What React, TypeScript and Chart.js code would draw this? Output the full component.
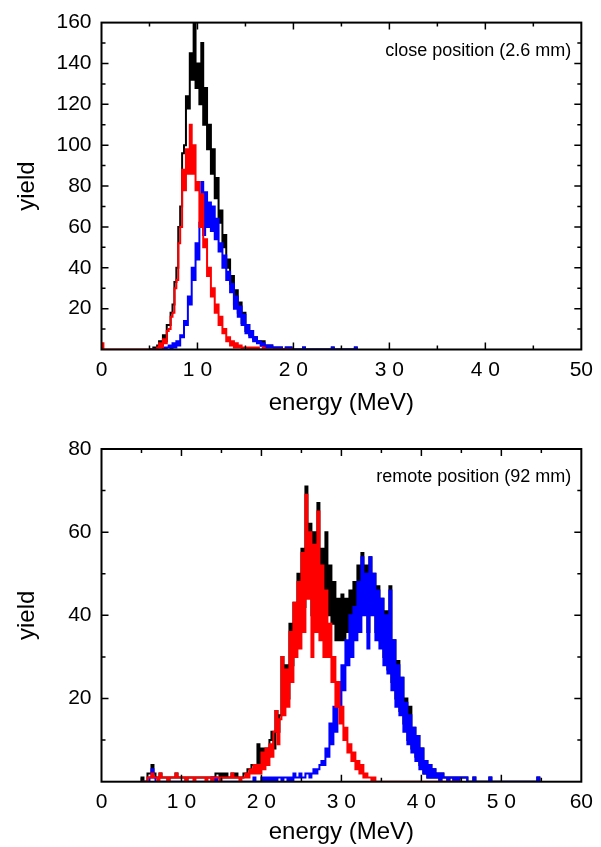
import React, { useEffect, useRef } from "react";
import { Chart, registerables } from "chart.js";

Chart.register(...registerables);

const FONT = '"Liberation Sans", Arial, Helvetica, sans-serif';

// ---------- TOP PANEL: close position (2.6 mm) ----------
const topBinStart = 5.0;
const topBinWidth = 0.2;
const topXTickLabels = ["0", "1 0", "2 0", "3 0", "4 0", "50"];
const topYTickLabels = ["", "20", "40", "60", "80", "100", "120", "140", "160"];
// yield per 0.2 MeV bin, starting at 5.0 MeV
const topRed = [
  0, 0, 0, 0, 1, 3, 1, 5, 3, 9,
  10, 16, 18, 30, 34, 52, 60, 88, 78, 98,
  86, 110, 86, 100, 78, 82, 60, 76, 50, 54,
  36, 40, 26, 30, 18, 22, 12, 16, 8, 10,
  4, 6, 2, 4, 1, 3, 1, 2, 0, 1,
  1, 0, 1, 0, 1, 0, 1, 0, 0, 1,
  0, 0, 0, 0, 0, 0, 0, 0, 0, 0, 0, 0, 0, 0, 0,
];
const topBlue = [
  0, 0, 0, 0, 0, 0, 0, 1, 0, 1,
  2, 0, 3, 1, 4, 2, 7, 6, 14, 12,
  26, 22, 40, 34, 52, 44, 62, 82, 56, 77,
  60, 72, 58, 70, 54, 64, 48, 52, 40, 46,
  34, 38, 28, 32, 20, 26, 16, 21, 12, 17,
  8, 12, 6, 9, 4, 6, 3, 4, 2, 3,
  1, 2, 1, 2, 1, 0, 1, 0, 1, 0, 0, 1, 0, 1, 0,
];
const topBlack = [
  0, 0, 1, 0, 2, 4, 2, 7, 4, 12,
  12, 18, 22, 33, 40, 60, 70, 96, 100, 124,
  118, 145, 132, 160, 128, 140, 120, 150, 110, 128,
  98, 110, 86, 98, 74, 84, 62, 68, 50, 56,
  40, 44, 32, 36, 22, 29, 18, 23, 13, 18,
  9, 12, 7, 9, 5, 6, 4, 4, 2, 4,
  1, 2, 1, 2, 1, 0, 1, 0, 1, 0, 0, 1, 0, 1, 0,
];
// isolated bins outside the main range: [energy, yield]
const topRedSparse: [number, number][] = [[0.0, 3]];
const topBlueSparse: [number, number][] = [[21.0, 1], [24.0, 1], [26.4, 1]];
const topBlackSparse: [number, number][] = [[21.0, 1], [24.0, 1], [26.4, 1]];

// ---------- BOTTOM PANEL: remote position (92 mm) ----------
const bottomBinStart = 5.0;
const bottomBinWidth = 0.25;
const bottomXTickLabels = ["0", "1 0", "2 0", "3 0", "4 0", "5 0", "60"];
const bottomYTickLabels = ["", "20", "40", "60", "80"];
// yield per 0.25 MeV bin, starting at 5.0 MeV
const bottomRed = [
  0, 0, 0, 1, 1, 2, 1, 1, 0, 2, 1, 1,
  1, 0, 1, 1, 1, 2, 1, 1, 1, 1, 0, 1,
  1, 1, 0, 1, 1, 1, 1, 1, 0, 1, 1, 0,
  1, 1, 1, 0, 1, 1, 1, 1, 1, 2, 1, 1,
  1, 0, 1, 1, 2, 1, 3, 2, 4, 2, 4, 2,
  7, 3, 8, 4, 9, 6, 12, 17, 9, 15, 30, 16,
  27, 18, 36, 24, 43, 30, 48, 32, 55, 36, 69, 44,
  60, 30, 57, 36, 65, 34, 52, 30, 46, 30, 38, 24,
  30, 18, 24, 14, 18, 10, 13, 7, 9, 5, 7, 3,
  5, 2, 4, 1, 2, 1, 1, 0, 1, 0, 0, 0,
  0, 0, 0, 0, 0, 0, 0, 0, 0, 0, 0, 0,
  0, 0, 0, 0, 0, 0, 0, 0, 0, 0, 0, 0,
  0, 0, 0, 0, 0, 0, 0, 0, 0, 0, 0, 0,
  0, 0, 0, 0,
];
const bottomBlue = [
  0, 0, 0, 0, 1, 3, 1, 0, 0, 0, 0, 0,
  0, 0, 0, 0, 0, 0, 0, 0, 0, 0, 0, 0,
  0, 0, 0, 0, 0, 0, 0, 0, 0, 0, 0, 1,
  0, 1, 0, 0, 0, 0, 0, 0, 0, 0, 0, 0,
  0, 0, 0, 0, 0, 0, 0, 0, 1, 0, 0, 0,
  1, 0, 1, 0, 1, 0, 1, 0, 1, 1, 0, 1,
  1, 0, 1, 0, 2, 1, 1, 2, 1, 1, 2, 2,
  1, 2, 3, 2, 3, 4, 5, 4, 8, 6, 14, 9,
  18, 12, 24, 18, 28, 22, 34, 28, 40, 30, 42, 34,
  48, 36, 54, 40, 50, 32, 54, 40, 50, 34, 46, 32,
  44, 28, 40, 26, 46, 22, 34, 18, 28, 16, 25, 12,
  19, 9, 16, 7, 13, 5, 11, 3, 8, 2, 5, 1,
  4, 1, 3, 1, 2, 0, 2, 1, 1, 0, 1, 1,
  0, 1, 0, 1,
];
const bottomBlack = [
  1, 0, 0, 2, 2, 4, 2, 1, 1, 2, 1, 1,
  1, 0, 1, 1, 1, 2, 1, 1, 1, 1, 0, 1,
  1, 1, 1, 1, 1, 1, 1, 1, 1, 1, 1, 1,
  1, 2, 2, 1, 2, 1, 2, 1, 1, 2, 1, 2,
  1, 1, 1, 2, 2, 3, 3, 4, 4, 3, 9, 4,
  8, 5, 8, 6, 10, 12, 8, 17, 12, 16, 30, 20,
  28, 20, 38, 28, 43, 34, 50, 36, 56, 42, 71, 48,
  62, 40, 60, 44, 67, 48, 56, 44, 60, 40, 52, 38,
  48, 34, 44, 34, 45, 34, 44, 36, 46, 36, 48, 38,
  52, 40, 55, 44, 52, 36, 54, 42, 50, 36, 47, 34,
  44, 30, 41, 27, 47, 24, 34, 20, 29, 17, 25, 14,
  20, 10, 18, 8, 13, 6, 11, 4, 8, 2, 5, 1,
  4, 1, 3, 1, 2, 0, 2, 1, 1, 0, 1, 1,
  0, 1, 0, 1,
];
const bottomRedSparse: [number, number][] = [];
const bottomBlueSparse: [number, number][] = [
  [45.0, 1], [45.25, 1], [45.5, 1], [46.5, 1], [48.5, 1], [54.5, 1],
];
const bottomBlackSparse: [number, number][] = [
  [45.0, 1], [45.25, 1], [45.5, 1], [46.5, 1], [48.5, 1], [54.5, 1],
];

const RED = "#ff0000";
const BLUE = "#0000ff";
const BLACK = "#000000";

type Pt = { x: number; y: number };

// turn binned counts into step points (empty bins count as zero)
function histPoints(
  start: number,
  width: number,
  values: number[],
  sparse: [number, number][]
): Pt[] {
  const m = new Map<number, number>();
  const k0 = Math.round(start / width);
  values.forEach((v, i) => m.set(k0 + i, v));
  sparse.forEach(([e, v]) => m.set(Math.round(e / width), v));
  const keys = [...m.keys()].sort((a, b) => a - b);
  const lo = keys[0];
  const hi = keys[keys.length - 1];
  const pts: Pt[] = [{ x: lo * width, y: 0 }];
  for (let k = lo; k <= hi; k++) pts.push({ x: k * width, y: m.get(k) ?? 0 });
  pts.push({ x: (hi + 1) * width, y: 0 });
  return pts;
}

const framePlugin = {
  id: "frame",
  afterDatasetsDraw(chart: any, _args: any, opts: any) {
    const { ctx, chartArea: a, scales } = chart;
    const xs = scales.x;
    const ys = scales.y;
    ctx.save();
    ctx.strokeStyle = "#000";
    ctx.lineWidth = 1.5;
    ctx.beginPath();
    const isMajor = (v: number, step: number) =>
      Math.abs(v / step - Math.round(v / step)) < 1e-6;
    for (let i = 1; ; i++) {
      const v = xs.min + i * opts.xMinor;
      if (v >= xs.max - 1e-9) break;
      const p = xs.getPixelForValue(v);
      const len = isMajor(v, opts.xMajor) ? 7 : 4;
      ctx.moveTo(p, a.bottom);
      ctx.lineTo(p, a.bottom - len);
      ctx.moveTo(p, a.top);
      ctx.lineTo(p, a.top + len);
    }
    for (let i = 1; ; i++) {
      const v = ys.min + i * opts.yMinor;
      if (v >= ys.max - 1e-9) break;
      const p = ys.getPixelForValue(v);
      const len = isMajor(v, opts.yMajor) ? 7 : 4;
      ctx.moveTo(a.left, p);
      ctx.lineTo(a.left + len, p);
      ctx.moveTo(a.right, p);
      ctx.lineTo(a.right - len, p);
    }
    ctx.stroke();
    ctx.lineWidth = 2;
    ctx.strokeRect(a.left, a.top, a.right - a.left, a.bottom - a.top);
    ctx.font = `18px ${FONT}`;
    ctx.fillStyle = "#000";
    ctx.textAlign = "right";
    ctx.textBaseline = "middle";
    ctx.fillText(opts.label, a.right - 10, a.top + 28);
    ctx.restore();
  },
};

type PanelProps = {
  width: number;
  height: number;
  padTop: number;
  xAxisHeight: number;
  titlePadBottom: number;
  xMax: number;
  yMax: number;
  xLabels: string[];
  yLabels: string[];
  label: string;
  red: Pt[];
  blue: Pt[];
  black: Pt[];
};

function Panel(p: PanelProps) {
  const ref = useRef<HTMLCanvasElement | null>(null);
  useEffect(() => {
    if (!ref.current) return;
    const line = (data: Pt[], color: string) => ({
      data,
      borderColor: color,
      backgroundColor: color,
      borderWidth: 2,
      pointRadius: 0,
      stepped: true,
      fill: false,
      tension: 0,
      clip: 0,
    });
    const chart = new Chart(ref.current, {
      type: "line",
      data: {
        datasets: [line(p.red, RED), line(p.blue, BLUE), line(p.black, BLACK)] as any,
      },
      plugins: [framePlugin],
      options: {
        animation: false,
        responsive: false,
        devicePixelRatio: 1,
        events: [],
        layout: { padding: { left: 0, right: 19, top: p.padTop, bottom: 0 } },
        plugins: {
          legend: { display: false },
          tooltip: { enabled: false },
          frame: { xMinor: 5, xMajor: 10, yMinor: 10, yMajor: 20, label: p.label },
        } as any,
        scales: {
          x: {
            type: "linear",
            min: 0,
            max: p.xMax,
            grid: { display: false, drawTicks: false },
            border: { display: false },
            ticks: {
              stepSize: 10,
              autoSkip: false,
              maxRotation: 0,
              padding: 8,
              color: "#000",
              font: { family: FONT, size: 21 },
              callback: (v: any) => p.xLabels[Math.round(Number(v) / 10)] ?? "",
            },
            title: {
              display: true,
              text: "energy (MeV)",
              color: "#000",
              font: { family: FONT, size: 24 },
              padding: { top: 0, bottom: p.titlePadBottom },
            },
            afterFit: (s: any) => {
              s.height = p.xAxisHeight;
            },
          },
          y: {
            type: "linear",
            min: 0,
            max: p.yMax,
            grid: { display: false, drawTicks: false },
            border: { display: false },
            ticks: {
              stepSize: 20,
              padding: 10,
              color: "#000",
              font: { family: FONT, size: 21 },
              callback: (v: any) => p.yLabels[Math.round(Number(v) / 20)] ?? "",
            },
            title: {
              display: true,
              text: "yield",
              color: "#000",
              font: { family: FONT, size: 24 },
              padding: { top: 13, bottom: 0 },
            },
            afterFit: (s: any) => {
              s.width = 101.5;
            },
          },
        },
      } as any,
    });
    return () => chart.destroy();
  }, []);
  return (
    <canvas
      ref={ref}
      width={p.width}
      height={p.height}
      style={{ display: "block", width: p.width, height: p.height }}
    />
  );
}

export default function App() {
  const topR = histPoints(topBinStart, topBinWidth, topRed, topRedSparse);
  const topB = histPoints(topBinStart, topBinWidth, topBlue, topBlueSparse);
  const topK = histPoints(topBinStart, topBinWidth, topBlack, topBlackSparse);
  const botR = histPoints(bottomBinStart, bottomBinWidth, bottomRed, bottomRedSparse);
  const botB = histPoints(bottomBinStart, bottomBinWidth, bottomBlue, bottomBlueSparse);
  const botK = histPoints(bottomBinStart, bottomBinWidth, bottomBlack, bottomBlackSparse);
  return (
    <div
      style={{
        position: "absolute",
        left: 0,
        top: 0,
        width: 601,
        height: 847,
        background: "#fff",
      }}
    >
      <Panel
        width={601}
        height={424}
        padTop={17}
        xAxisHeight={74.5}
        titlePadBottom={6}
        xMax={50}
        yMax={160}
        xLabels={topXTickLabels}
        yLabels={topYTickLabels}
        label="close position (2.6 mm)"
        red={topR}
        blue={topB}
        black={topK}
      />
      <Panel
        width={601}
        height={423}
        padTop={25}
        xAxisHeight={65.3}
        titlePadBottom={0}
        xMax={60}
        yMax={80}
        xLabels={bottomXTickLabels}
        yLabels={bottomYTickLabels}
        label="remote position (92 mm)"
        red={botR}
        blue={botB}
        black={botK}
      />
    </div>
  );
}
